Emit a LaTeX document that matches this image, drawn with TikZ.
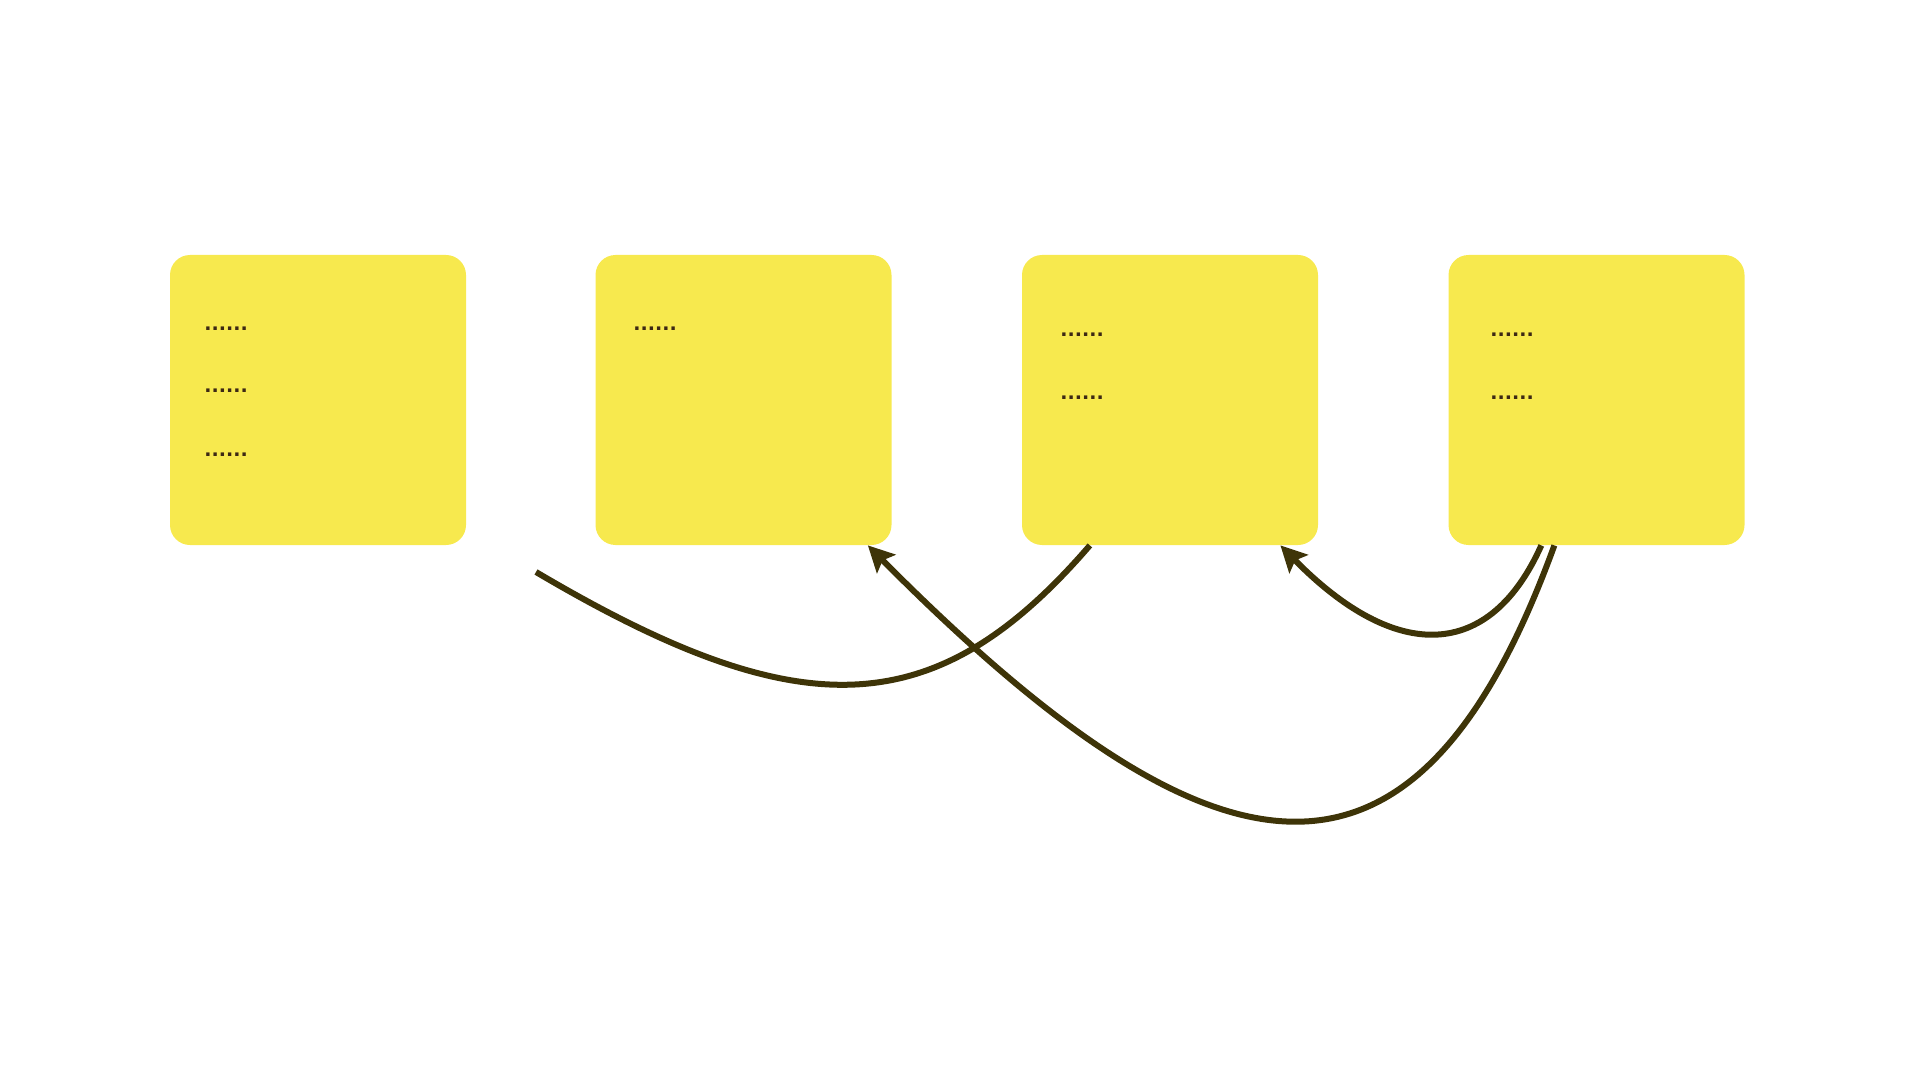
\documentclass[tikz,border=0pt]{standalone}
\usepackage{fontspec}
\newfontfamily\dotfont{DejaVu Sans}
\usetikzlibrary{arrows.meta,calc}
\definecolor{notey}{RGB}{247,233,78}
\definecolor{linec}{RGB}{62,52,8}
\definecolor{dotc}{RGB}{60,40,20}
\tikzset{
  note/.style={fill=notey,draw=none,rounded corners=10pt,minimum width=148pt,minimum height=145pt,inner sep=0pt},
  dots/.style={anchor=base west,inner sep=0pt,text=dotc,font=\dotfont\fontsize{9.5}{11}\selectfont\bfseries},
  conn/.style={draw=linec,line width=3pt},
  tipped/.style={conn,-{Stealth[length=13pt,width=13pt,inset=2.5pt]}}
}
\begin{document}
\begin{tikzpicture}[x=0.5pt,y=-0.5pt]
\useasboundingbox (0,0) rectangle (1920,1080);
\node[note] (b1) at (318,400) {};
\node[note] (b2) at (743.5,400) {};
\node[note] (b3) at (1170,400) {};
\node[note] (b4) at (1596.5,400) {};
\node[dots] (t11) at (204,331) {......};
\node[dots] (t12) at (204,393) {......};
\node[dots] (t13) at (204,456) {......};
\node[dots] (t21) at (633,330) {......};
\node[dots] (t31) at (1060,336) {......};
\node[dots] (t32) at (1060,399) {......};
\node[dots] (t41) at (1490,336) {......};
\node[dots] (t42) at (1490,399) {......};
\coordinate (free) at (536,572);
\coordinate (s1) at ($(b3.south west)!0.23!(b3.south east)$);
\coordinate (s2) at ($(b4.south west)!0.358!(b4.south east)$);
\coordinate (e2) at ($(b2.south west)!0.919!(b2.south east)$);
\coordinate (s3) at ($(b4.south west)!0.314!(b4.south east)$);
\coordinate (e3) at ($(b3.south west)!0.872!(b3.south east)$);
\draw[conn] (s1) .. controls (935,725) and (800,728) .. (free);
\draw[tipped] (s2) .. controls (1417,923) and (1220,900) .. (e2);
\draw[tipped] (s3) .. controls (1490,660) and (1397,664) .. (e3);
\end{tikzpicture}
\end{document}
